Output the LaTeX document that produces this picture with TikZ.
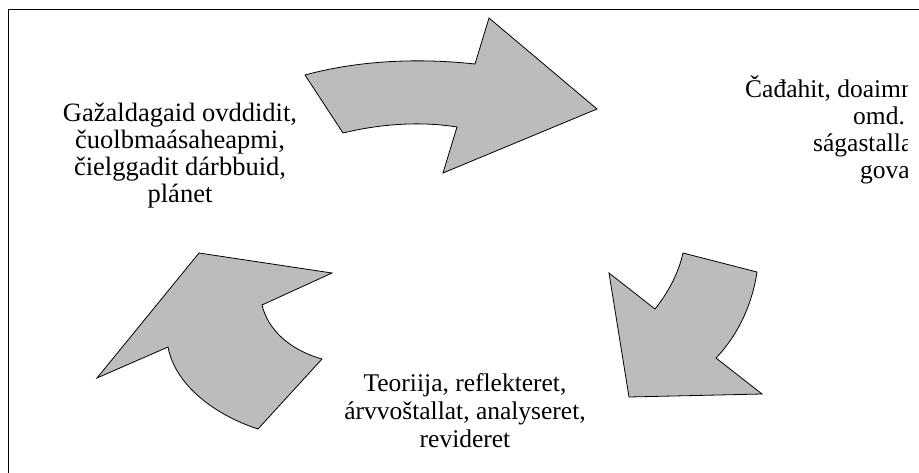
\documentclass[tikz,border=0pt]{standalone}
\usepackage{fontspec}
\setmainfont{Liberation Serif}
\usepackage{tikz}
\definecolor{arrowgray}{RGB}{187,188,190}

\begin{document}
\begin{tikzpicture}[x=1pt,y=-1pt,
        cyclearrow/.style={draw=black,fill=arrowgray,line width=0.8pt},
        steptext/.style={inner sep=0pt,align=center,font=\fontsize{25.5}{28}\selectfont}]
    \useasboundingbox (0,0) rectangle (919,472);
    \clip (0,0) rectangle (919,472);
    \draw[line width=1pt] (8,9) rectangle (940,490);
    % top arrow
    \draw[cyclearrow] (305,75) .. controls (360,60) and (420,58) .. (475,64)
        -- (489,18) -- (597,109) -- (443,173) -- (457,127)
        .. controls (420,121) and (380,124) .. (343,133) -- cycle;
    % right arrow
    \draw[cyclearrow] (683,253) -- (757,272)
        .. controls (752,305) and (738,335) .. (716,358)
        -- (762,394) -- (629,397) -- (609,273) -- (655,309)
        .. controls (667,294) and (678,275) .. (683,253) -- cycle;
    % left arrow
    \draw[cyclearrow] (199,253) -- (332,273) -- (262,305)
        .. controls (268,330) and (290,350) .. (322,359)
        -- (258,429) .. controls (215,415) and (175,385) .. (168,347)
        -- (97,378) -- cycle;
    \node[steptext,font=\fontsize{26.5}{27}\selectfont] (plan) at (180,156)
        {Gažaldagaid ovddidit,\\ čuolbmaásaheapmi,\\ čielggadit dárbbuid,\\ plánet};
    \node[steptext] (theory) at (465,411) {Teoriija, reflekteret,\\
        árvvoštallat, analyseret,\\ revideret};
    \begin{scope}
        \clip (0,0) rectangle (907,472);
        \node[steptext,anchor=base west] (act1) at (745,97) {Čađahit, doaimm};
        \node[steptext,anchor=base west] (act2) at (853,124) {omd.};
        \node[steptext,anchor=base west] (act3) at (813,151) {ságastalla};
        \node[steptext,anchor=base west] (act4) at (860,178) {gova};
    \end{scope}
\end{tikzpicture}
\end{document}
